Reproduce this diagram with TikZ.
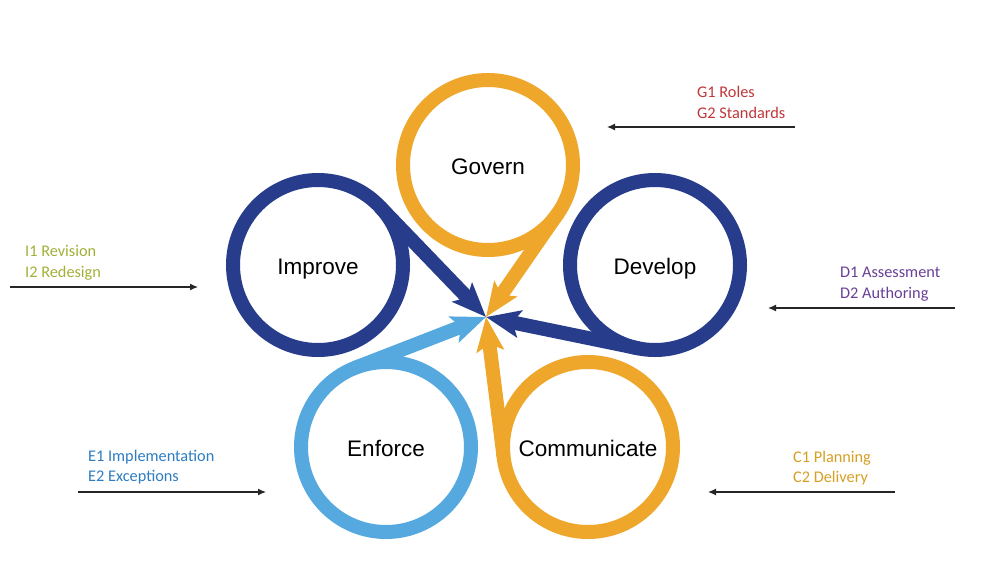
\documentclass[tikz,border=0pt]{standalone}
\usepackage{fontspec}
\setmainfont{Liberation Sans}
\newfontfamily\labelfont{Carlito}
\usetikzlibrary{arrows.meta}
\definecolor{gorange}{RGB}{238,167,43}
\definecolor{dblue}{RGB}{39,61,140}
\definecolor{lblue}{RGB}{85,169,223}
\definecolor{gred}{RGB}{192,55,58}
\definecolor{iolive}{RGB}{163,176,56}
\definecolor{dpurple}{RGB}{106,64,150}
\definecolor{eblue}{RGB}{46,125,192}
\definecolor{cgold}{RGB}{214,160,36}
\begin{document}
\begin{tikzpicture}[x=1pt,y=-1pt,
  ring/.style={circle,draw,line width=14pt,minimum size=170pt,inner sep=0pt,outer sep=0pt,
    text=black,text height=19pt,text depth=0pt,font=\fontsize{22.5}{26}\selectfont},
  tail/.style={line width=14pt,-{Stealth[length=34pt,width=27pt,inset=7pt]}},
  sidelbl/.style={anchor=base west,inner sep=0pt,font=\labelfont\fontsize{16.3}{19}\selectfont},
  thinarrow/.style={line width=1.2pt,draw=black!85,-{Latex[length=8pt,width=7pt]}}]
\useasboundingbox[fill=white] (0,0) rectangle (1000,565);

\coordinate (hub) at (486,317);

% rings
\node[ring,draw=gorange] (gov) at (488,165) {Govern};
\node[ring,draw=dblue] (imp) at (318,265) {Improve};
\node[ring,draw=dblue] (dev) at (655,265) {Develop};
\node[ring,draw=lblue] (enf) at (386,447) {Enforce};
\node[ring,draw=gorange] (com) at (588,447) {Communicate};

% tails to hub
\draw[tail,draw=lblue,fill=lblue] (enf.110.6) -- (hub);
\draw[tail,draw=dblue,fill=dblue] (imp.43.9) -- (hub);
\draw[tail,draw=dblue,fill=dblue] (dev.-101.3) -- (hub);
\draw[tail,draw=gorange,fill=gorange] (com.186.8) -- (hub);
\draw[tail,draw=gorange,fill=gorange] (gov.-34.1) -- (hub);

% side labels
\node[sidelbl,text=gred] (g1) at (697,97) {G1 Roles};
\node[sidelbl,text=gred] (g2) at (697,118) {G2 Standards};
\coordinate (gs) at (795,127);
\coordinate (ge) at (607,127);
\draw[thinarrow] (gs) -- (ge);

\node[sidelbl,text=iolive] (i1) at (25,256) {I1 Revision};
\node[sidelbl,text=iolive] (i2) at (25,277) {I2 Redesign};
\coordinate (is) at (10,287);
\coordinate (ie) at (198,287);
\draw[thinarrow] (is) -- (ie);

\node[sidelbl,text=dpurple] (d1) at (840,277) {D1 Assessment};
\node[sidelbl,text=dpurple] (d2) at (840,298) {D2 Authoring};
\coordinate (ds) at (955,308);
\coordinate (de) at (768,308);
\draw[thinarrow] (ds) -- (de);

\node[sidelbl,text=eblue] (e1) at (88,461) {E1 Implementation};
\node[sidelbl,text=eblue] (e2) at (88,481) {E2 Exceptions};
\coordinate (es) at (78,492);
\coordinate (ee) at (266,492);
\draw[thinarrow] (es) -- (ee);

\node[sidelbl,text=cgold] (c1) at (793,462) {C1 Planning};
\node[sidelbl,text=cgold] (c2) at (793,482) {C2 Delivery};
\coordinate (cs) at (895,492);
\coordinate (ce) at (708,492);
\draw[thinarrow] (cs) -- (ce);
\end{tikzpicture}
\end{document}
